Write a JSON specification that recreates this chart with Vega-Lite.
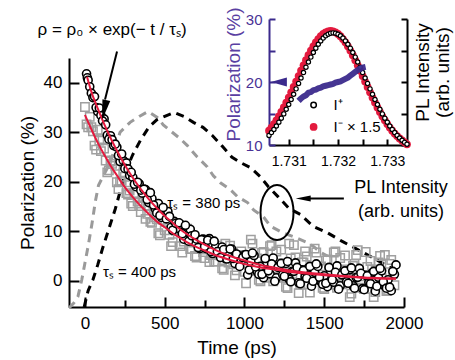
{
  "$schema": "https://vega.github.io/schema/vega-lite/v6.json",
  "width": 335,
  "height": 249,
  "autosize": "none",
  "padding": {"left": 69, "top": 58, "right": 51, "bottom": 53},
  "background": "white",
  "config": {
    "view": {"stroke": null},
    "font": "Liberation Sans",
    "axis": {"grid": false, "labelColor": "black", "titleColor": "black", "domainColor": "black", "tickColor": "black", "titleFontWeight": "normal", "labelFlush": false, "labelOverlap": false}
  },
  "datasets": {
    "circ": [
      {"t":10,"v":41.8},{"t":15,"v":41.0},{"t":20,"v":40.5},{"t":30,"v":39.2},{"t":40,"v":37.9},{"t":50,"v":37.0},{"t":60,"v":37.2},{"t":80,"v":34.2},{"t":100,"v":33.4},{"t":120,"v":32.7},{"t":140,"v":29.4},{"t":160,"v":29.3},{"t":180,"v":27.3},{"t":200,"v":27.0},{"t":220,"v":24.1},{"t":240,"v":24.3},{"t":260,"v":23.8},{"t":280,"v":21.3},{"t":300,"v":20.9},{"t":320,"v":19.0},{"t":340,"v":19.6},{"t":360,"v":17.7},{"t":380,"v":18.4},{"t":400,"v":15.8},
      {"t":420,"v":16.6},{"t":440,"v":14.6},{"t":460,"v":15.6},{"t":480,"v":12.8},{"t":500,"v":13.4},{"t":520,"v":14.0},{"t":540,"v":10.8},{"t":560,"v":12.0},{"t":580,"v":10.6},{"t":600,"v":11.4},{"t":620,"v":8.4},{"t":640,"v":9.9},{"t":660,"v":10.4},{"t":680,"v":7.9},{"t":700,"v":8.4},{"t":720,"v":6.5},{"t":740,"v":8.4},{"t":760,"v":6.5},{"t":780,"v":8.5},{"t":800,"v":5.5},{"t":820,"v":7.0},{"t":840,"v":5.5},{"t":860,"v":6.8},{"t":880,"v":4.5},{"t":900,"v":5.4},{"t":920,"v":6.4},{"t":940,"v":3.5},{"t":960,"v":5.1},{"t":980,"v":4.0},{"t":1000,"v":5.2},
      {"t":1020,"v":1.2},{"t":1040,"v":3.9},{"t":1060,"v":5.1},{"t":1080,"v":1.8},{"t":1100,"v":2.9},{"t":1120,"v":0.6},{"t":1140,"v":3.8},{"t":1160,"v":1.4},{"t":1180,"v":4.6},{"t":1200,"v":0.6},{"t":1220,"v":3.1},{"t":1240,"v":1.2},{"t":1260,"v":3.5},{"t":1280,"v":0.3},{"t":1300,"v":1.9},{"t":1320,"v":3.6},{"t":1340,"v":-0.4},{"t":1360,"v":2.2},{"t":1380,"v":0.8},{"t":1400,"v":2.6},{"t":1420,"v":-1.1},{"t":1440,"v":1.7},{"t":1460,"v":2.9},{"t":1480,"v":-0.2},{"t":1500,"v":1.0},{"t":1520,"v":-1.2},{"t":1540,"v":2.0},{"t":1560,"v":-0.3},{"t":1580,"v":3.0},{"t":1600,"v":-1.0},{"t":1620,"v":1.6},{"t":1640,"v":-0.2},{"t":1660,"v":2.2},{"t":1680,"v":-1.0},{"t":1700,"v":0.7},{"t":1720,"v":2.5},{"t":1740,"v":-1.6},{"t":1760,"v":1.1},{"t":1780,"v":-0.3},{"t":1800,"v":1.6},{"t":1820,"v":-2.1},{"t":1840,"v":0.7},{"t":1860,"v":2.0},{"t":1880,"v":-1.1},{"t":1900,"v":0.2},{"t":1920,"v":-2.0},{"t":1940,"v":1.3},{"t":1950,"v":3.2},
      {"t":70,"v":35.0},{"t":90,"v":34.9},{"t":110,"v":32.3},{"t":130,"v":31.5},{"t":150,"v":28.6},{"t":170,"v":28.5},{"t":190,"v":27.6},{"t":210,"v":25.3},{"t":230,"v":25.6},{"t":250,"v":22.7},{"t":270,"v":22.6},{"t":290,"v":21.9},{"t":310,"v":19.5},{"t":330,"v":19.9},{"t":350,"v":18.3},{"t":370,"v":18.5},{"t":390,"v":16.4},
      {"t":410,"v":17.8},{"t":430,"v":15.3},{"t":450,"v":13.7},{"t":470,"v":13.2},{"t":490,"v":14.8},{"t":510,"v":12.5},{"t":530,"v":13.0},{"t":550,"v":10.2},{"t":570,"v":11.6},{"t":590,"v":11.7},{"t":610,"v":9.5},{"t":630,"v":11.2},{"t":650,"v":8.0},{"t":670,"v":9.1},{"t":690,"v":9.3},{"t":710,"v":6.7},{"t":730,"v":8.3},{"t":750,"v":6.9},{"t":770,"v":8.2},{"t":790,"v":5.9},{"t":810,"v":8.0},{"t":830,"v":5.9},{"t":850,"v":4.7},{"t":870,"v":6.3},{"t":890,"v":4.4},{"t":910,"v":6.4},{"t":930,"v":4.5},{"t":950,"v":5.4},{"t":970,"v":2.9},{"t":990,"v":4.7},
      {"t":1010,"v":5.3},{"t":1030,"v":2.2},{"t":1050,"v":5.6},{"t":1070,"v":2.8},{"t":1090,"v":1.3},{"t":1110,"v":1.3},{"t":1130,"v":4.5},{"t":1150,"v":2.0},{"t":1170,"v":3.4},{"t":1190,"v":-0.1},{"t":1210,"v":2.7},{"t":1230,"v":3.5},{"t":1250,"v":0.9},{"t":1270,"v":3.9},{"t":1290,"v":-0.2},{"t":1310,"v":1.9},{"t":1330,"v":2.7},{"t":1350,"v":-0.6},{"t":1370,"v":2.1},{"t":1390,"v":0.5},{"t":1410,"v":2.9},{"t":1430,"v":-0.1},{"t":1450,"v":3.4},{"t":1470,"v":0.7},{"t":1490,"v":-0.7},{"t":1510,"v":-0.5},{"t":1530,"v":2.7},{"t":1550,"v":0.2},{"t":1570,"v":1.7},{"t":1590,"v":-1.7},{"t":1610,"v":1.2},{"t":1630,"v":2.0},{"t":1650,"v":-0.5},{"t":1670,"v":2.6},{"t":1690,"v":-1.5},{"t":1710,"v":0.7},{"t":1730,"v":1.5},{"t":1750,"v":-1.8},{"t":1770,"v":1.0},{"t":1790,"v":-0.6},{"t":1810,"v":1.9},{"t":1830,"v":-1.1},{"t":1850,"v":2.5},{"t":1870,"v":-0.2},{"t":1890,"v":-1.5},{"t":1910,"v":-1.3},{"t":1930,"v":1.9}
    ],
    "sq": [
      {"t":0,"v":35.1},{"t":20,"v":31.0},{"t":40,"v":31.0},{"t":60,"v":27.3},{"t":80,"v":30.5},{"t":100,"v":26.2},{"t":120,"v":26.7},{"t":140,"v":21.9},{"t":160,"v":24.1},{"t":180,"v":24.3},{"t":200,"v":19.9},{"t":220,"v":20.0},{"t":240,"v":21.7},{"t":260,"v":17.7},{"t":280,"v":18.2},{"t":300,"v":15.1},{"t":320,"v":17.5},{"t":340,"v":15.1},{"t":360,"v":16.9},{"t":380,"v":12.5},{"t":400,"v":15.1},
      {"t":420,"v":11.7},{"t":440,"v":12.8},{"t":460,"v":9.6},{"t":480,"v":14.3},{"t":500,"v":10.2},{"t":520,"v":11.7},{"t":540,"v":7.0},{"t":560,"v":10.3},{"t":580,"v":11.2},{"t":600,"v":7.0},{"t":620,"v":7.9},{"t":640,"v":10.5},{"t":660,"v":6.4},{"t":680,"v":7.7},{"t":700,"v":4.7},{"t":720,"v":8.0},{"t":740,"v":5.8},{"t":760,"v":8.3},{"t":780,"v":3.8},{"t":800,"v":7.2},{"t":820,"v":3.9},{"t":840,"v":5.4},{"t":860,"v":2.5},{"t":880,"v":7.5},{"t":900,"v":3.7},{"t":920,"v":5.0},{"t":940,"v":1.1},{"t":960,"v":4.7},{"t":980,"v":5.9},{"t":1000,"v":1.8},
      {"t":1020,"v":3.5},{"t":1040,"v":8.3},{"t":1060,"v":2.0},{"t":1080,"v":4.5},{"t":1100,"v":-0.1},{"t":1120,"v":5.8},{"t":1140,"v":2.4},{"t":1160,"v":7.0},{"t":1180,"v":-0.1},{"t":1200,"v":5.9},{"t":1220,"v":0.8},{"t":1240,"v":3.5},{"t":1260,"v":-1.2},{"t":1280,"v":7.5},{"t":1300,"v":1.4},{"t":1320,"v":4.7},{"t":1340,"v":-2.5},{"t":1360,"v":3.7},{"t":1380,"v":5.9},{"t":1400,"v":-0.7},{"t":1420,"v":1.5},{"t":1440,"v":6.5},{"t":1460,"v":0.2},{"t":1480,"v":2.9},{"t":1500,"v":-1.7},{"t":1520,"v":4.3},{"t":1540,"v":1.0},{"t":1560,"v":5.7},{"t":1580,"v":-1.4},{"t":1600,"v":4.6},{"t":1620,"v":-0.5},{"t":1640,"v":2.3},{"t":1660,"v":-3.3},{"t":1680,"v":3.0},{"t":1700,"v":5.2},{"t":1720,"v":-1.4},{"t":1740,"v":0.9},{"t":1760,"v":5.8},{"t":1780,"v":-0.5},{"t":1800,"v":2.3},{"t":1820,"v":-2.3},{"t":1840,"v":3.7},{"t":1860,"v":0.5},{"t":1880,"v":5.2},{"t":1900,"v":-1.9},{"t":1920,"v":4.2},{"t":1940,"v":-0.9},
      {"t":10,"v":31.6},{"t":30,"v":33.1},{"t":50,"v":30.2},{"t":70,"v":26.5},{"t":90,"v":28.3},{"t":110,"v":28.6},{"t":130,"v":24.3},{"t":150,"v":22.3},{"t":170,"v":23.6},{"t":190,"v":23.2},{"t":210,"v":18.5},{"t":230,"v":20.2},{"t":250,"v":21.0},{"t":270,"v":17.4},{"t":290,"v":15.6},{"t":310,"v":17.7},{"t":330,"v":16.0},{"t":350,"v":13.9},{"t":370,"v":16.7},{"t":390,"v":13.5},
      {"t":410,"v":11.9},{"t":430,"v":14.7},{"t":450,"v":12.4},{"t":470,"v":9.2},{"t":490,"v":12.3},{"t":510,"v":13.4},{"t":530,"v":9.3},{"t":550,"v":7.8},{"t":570,"v":10.1},{"t":590,"v":10.4},{"t":610,"v":5.7},{"t":630,"v":8.5},{"t":650,"v":9.9},{"t":670,"v":6.4},{"t":690,"v":5.0},{"t":710,"v":8.0},{"t":730,"v":6.5},{"t":750,"v":4.6},{"t":770,"v":8.3},{"t":790,"v":5.2},{"t":810,"v":3.9},{"t":830,"v":7.1},{"t":850,"v":5.1},{"t":870,"v":2.2},{"t":890,"v":5.6},{"t":910,"v":7.1},{"t":930,"v":3.3},{"t":950,"v":2.1},{"t":970,"v":4.6},{"t":990,"v":5.2},
      {"t":1010,"v":-0.5},{"t":1030,"v":4.7},{"t":1050,"v":7.5},{"t":1070,"v":2.1},{"t":1090,"v":0.2},{"t":1110,"v":5.6},{"t":1130,"v":3.5},{"t":1150,"v":0.6},{"t":1170,"v":7.2},{"t":1190,"v":2.4},{"t":1210,"v":0.6},{"t":1230,"v":6.3},{"t":1250,"v":3.2},{"t":1270,"v":-1.5},{"t":1290,"v":4.5},{"t":1310,"v":7.2},{"t":1330,"v":1.1},{"t":1350,"v":-0.8},{"t":1370,"v":3.7},{"t":1390,"v":4.9},{"t":1410,"v":-2.4},{"t":1430,"v":2.8},{"t":1450,"v":5.7},{"t":1470,"v":0.4},{"t":1490,"v":-1.4},{"t":1510,"v":4.1},{"t":1530,"v":2.0},{"t":1550,"v":-0.8},{"t":1570,"v":5.9},{"t":1590,"v":1.1},{"t":1610,"v":-0.7},{"t":1630,"v":5.1},{"t":1650,"v":2.0},{"t":1670,"v":-2.6},{"t":1690,"v":3.4},{"t":1710,"v":6.2},{"t":1730,"v":0.1},{"t":1750,"v":-1.7},{"t":1770,"v":2.8},{"t":1790,"v":4.0},{"t":1810,"v":-3.3},{"t":1830,"v":2.0},{"t":1850,"v":5.0},{"t":1870,"v":-0.3},{"t":1890,"v":-2.1},{"t":1910,"v":3.4},{"t":1930,"v":1.4}
    ],
    "fit1": [
      {"t":13,"v":41.2},{"t":40,"v":38.2},{"t":80,"v":34.8},{"t":120,"v":31.7},{"t":160,"v":28.9},{"t":200,"v":26.3},{"t":250,"v":23.4},{"t":300,"v":20.8},{"t":350,"v":18.5},{"t":400,"v":16.5},{"t":450,"v":14.7},{"t":500,"v":13.1},{"t":550,"v":11.7},{"t":600,"v":10.3},{"t":650,"v":9.2},{"t":700,"v":8.2},{"t":750,"v":7.3},{"t":800,"v":6.5},{"t":900,"v":5.1},{"t":1000,"v":4.1},{"t":1100,"v":3.2},{"t":1200,"v":2.6},{"t":1300,"v":2.0},{"t":1400,"v":1.6},{"t":1500,"v":1.3},{"t":1600,"v":1.0},{"t":1700,"v":0.8},{"t":1800,"v":0.6},{"t":1950,"v":0.45}
    ],
    "fit2": [
      {"t":0,"v":33.5},{"t":40,"v":30.6},{"t":80,"v":27.9},{"t":120,"v":25.5},{"t":160,"v":23.3},{"t":200,"v":21.3},{"t":250,"v":18.9},{"t":300,"v":16.9},{"t":350,"v":15.1},{"t":400,"v":13.5},{"t":450,"v":12.0},{"t":500,"v":10.8},{"t":550,"v":9.6},{"t":600,"v":8.6},{"t":650,"v":7.6},{"t":700,"v":6.8},{"t":750,"v":6.1},{"t":800,"v":5.4},{"t":900,"v":4.3},{"t":1000,"v":3.4},{"t":1100,"v":2.7},{"t":1200,"v":2.2},{"t":1300,"v":1.7},{"t":1400,"v":1.4},{"t":1500,"v":1.1},{"t":1600,"v":0.9},{"t":1700,"v":0.7},{"t":1800,"v":0.5},{"t":1950,"v":0.4}
    ],
    "pl1": [
      {"t":-100,"v":-5.5},{"t":-70,"v":-4.5},{"t":-44,"v":-3.2},{"t":-20,"v":0.2},{"t":0,"v":3.6},{"t":20,"v":7.0},{"t":45,"v":11.7},{"t":65,"v":16.0},{"t":85,"v":19.3},{"t":120,"v":21.5},{"t":157,"v":23.8},{"t":190,"v":26.9},{"t":220,"v":30.0},{"t":283,"v":32.0},{"t":346,"v":33.3},{"t":396,"v":34.2},{"t":453,"v":33.0},{"t":491,"v":31.5},{"t":547,"v":30.0},{"t":597,"v":28.7},{"t":642,"v":27.3},{"t":704,"v":25.0},{"t":767,"v":23.0},{"t":805,"v":21.2},{"t":849,"v":19.8},{"t":912,"v":18.4},{"t":956,"v":17.0},{"t":1019,"v":15.8},{"t":1057,"v":14.3},{"t":1119,"v":12.9},{"t":1164,"v":11.0},{"t":1239,"v":9.7},{"t":1308,"v":8.9},{"t":1396,"v":7.7},{"t":1434,"v":6.9},{"t":1478,"v":5.7},{"t":1520,"v":5.0}
    ],
    "pl2": [
      {"t":-5,"v":-5.3},{"t":20,"v":-2.0},{"t":50,"v":0.2},{"t":80,"v":3.2},{"t":110,"v":6.5},{"t":150,"v":10.5},{"t":190,"v":14.5},{"t":220,"v":18.0},{"t":260,"v":22.5},{"t":300,"v":25.5},{"t":350,"v":28.5},{"t":400,"v":31.0},{"t":450,"v":32.5},{"t":500,"v":33.2},{"t":560,"v":34.0},{"t":620,"v":33.2},{"t":680,"v":32.0},{"t":740,"v":31.0},{"t":800,"v":29.3},{"t":860,"v":27.2},{"t":920,"v":25.0},{"t":980,"v":23.8},{"t":1040,"v":22.8},{"t":1100,"v":21.0},{"t":1150,"v":19.0},{"t":1210,"v":17.0},{"t":1280,"v":14.6},{"t":1350,"v":13.4},{"t":1430,"v":11.0},{"t":1520,"v":9.7},{"t":1610,"v":8.0},{"t":1710,"v":6.3},{"t":1830,"v":4.2},{"t":1940,"v":2.2}
    ],
    "spec": [
      {"e":1.7306,"ip":11.52,"im":12.27},{"e":1.73065,"ip":11.97,"im":12.77},{"e":1.7307,"ip":12.47,"im":13.32},{"e":1.73075,"ip":13.02,"im":13.92},{"e":1.7308,"ip":13.62,"im":14.56},{"e":1.73085,"ip":14.26,"im":15.24},{"e":1.7309,"ip":14.94,"im":15.97},{"e":1.73095,"ip":15.67,"im":16.73},{"e":1.731,"ip":16.43,"im":17.53},{"e":1.73105,"ip":17.23,"im":18.36},{"e":1.7311,"ip":18.06,"im":19.21},{"e":1.73115,"ip":18.91,"im":20.07},{"e":1.7312,"ip":19.77,"im":20.94},{"e":1.73125,"ip":20.64,"im":21.8},{"e":1.7313,"ip":21.5,"im":22.65},{"e":1.73135,"ip":22.35,"im":23.47},{"e":1.7314,"ip":23.17,"im":24.25},{"e":1.73145,"ip":23.95,"im":24.99},{"e":1.7315,"ip":24.69,"im":25.67},{"e":1.73155,"ip":25.37,"im":26.29},{"e":1.7316,"ip":25.99,"im":26.82},{"e":1.73165,"ip":26.52,"im":27.27},{"e":1.7317,"ip":26.97,"im":27.63},{"e":1.73175,"ip":27.33,"im":27.89},{"e":1.7318,"ip":27.59,"im":28.05},{"e":1.73185,"ip":27.75,"im":28.1},{"e":1.7319,"ip":27.8,"im":28.05},{"e":1.73195,"ip":27.75,"im":27.89},{"e":1.732,"ip":27.59,"im":27.63},{"e":1.73205,"ip":27.33,"im":27.27},{"e":1.7321,"ip":26.97,"im":26.82},{"e":1.73215,"ip":26.52,"im":26.29},{"e":1.7322,"ip":25.99,"im":25.67},{"e":1.73225,"ip":25.37,"im":24.99},{"e":1.7323,"ip":24.69,"im":24.25},{"e":1.73235,"ip":23.95,"im":23.47},{"e":1.7324,"ip":23.17,"im":22.65},{"e":1.73245,"ip":22.35,"im":21.8},{"e":1.7325,"ip":21.5,"im":20.94},{"e":1.73255,"ip":20.64,"im":20.07},{"e":1.7326,"ip":19.77,"im":19.21},{"e":1.73265,"ip":18.91,"im":18.36},{"e":1.7327,"ip":18.06,"im":17.53},{"e":1.73275,"ip":17.23,"im":16.73},{"e":1.7328,"ip":16.43,"im":15.97},{"e":1.73285,"ip":15.67,"im":15.24},{"e":1.7329,"ip":14.94,"im":14.56},{"e":1.73295,"ip":14.26,"im":13.92},{"e":1.733,"ip":13.62,"im":13.32},{"e":1.73305,"ip":13.02,"im":12.77},{"e":1.7331,"ip":12.47,"im":12.27},{"e":1.73315,"ip":11.97,"im":11.82},{"e":1.7332,"ip":11.52,"im":11.41},{"e":1.73325,"ip":11.11,"im":11.05},{"e":1.7333,"ip":10.75,"im":10.72},{"e":1.73335,"ip":10.42,"im":10.43},{"e":1.7334,"ip":10.13,"im":10.1}
    ],
    "pol": [
      {"e":1.7312,"p":17.0},{"e":1.73125,"p":17.4},{"e":1.7313,"p":17.7},{"e":1.73135,"p":17.9},{"e":1.7314,"p":18.3},{"e":1.73145,"p":18.4},{"e":1.7315,"p":18.7},{"e":1.73155,"p":18.8},{"e":1.7316,"p":19.0},{"e":1.73165,"p":19.1},{"e":1.7317,"p":19.3},{"e":1.73175,"p":19.4},{"e":1.7318,"p":19.5},{"e":1.73185,"p":19.6},{"e":1.7319,"p":19.7},{"e":1.73195,"p":19.9},{"e":1.732,"p":20.0},{"e":1.73205,"p":20.1},{"e":1.7321,"p":20.3},{"e":1.73215,"p":20.5},{"e":1.7322,"p":20.7},{"e":1.73225,"p":21.0},{"e":1.7323,"p":21.3},{"e":1.73235,"p":21.6},{"e":1.7324,"p":21.9},{"e":1.73245,"p":22.1},{"e":1.7325,"p":22.3},{"e":1.73256,"p":22.4}
    ]
  },
  "layer": [
    {
      "layer": [
        {
          "data": {"name": "pl1"},
          "mark": {"type": "line", "color": "#9a9a9a", "strokeWidth": 3, "strokeDash": [8, 6]},
          "encoding": {
            "x": {"field": "t", "type": "quantitative", "scale": {"domain": [-100, 2000], "nice": false, "zero": false},
              "axis": {"title": "Time (ps)", "orient": "bottom", "format": "d", "values": [0,250,500,750,1000,1250,1500,1750,2000], "labelExpr": "datum.value % 500 === 0 ? datum.label : ''", "tickSize": {"condition": {"test": "datum.value % 500 === 0", "value": -10}, "value": -7}, "tickWidth": 2, "domainWidth": 2, "labelFontSize": 17, "labelPadding": 18, "titleFontSize": 19, "titlePadding": 4}},
            "y": {"field": "v", "type": "quantitative", "scale": {"domain": [-5.3, 45], "nice": false, "zero": false},
              "axis": {"title": "Polarization (%)", "orient": "left", "values": [0,5,10,15,20,25,30,35,40,45], "labelExpr": "datum.value % 10 === 0 ? datum.label : ''", "tickSize": {"condition": {"test": "datum.value % 10 === 0", "value": -10}, "value": -7}, "tickWidth": 2, "domainWidth": 2, "labelFontSize": 17, "labelPadding": 17, "titleFontSize": 19, "titlePadding": 6}}
          }
        },
        {
          "data": {"name": "pl2"},
          "mark": {"type": "line", "color": "black", "strokeWidth": 3, "strokeDash": [8, 6]},
          "encoding": {"x": {"field": "t", "type": "quantitative"}, "y": {"field": "v", "type": "quantitative"}}
        },
        {
          "data": {"name": "sq"},
          "mark": {"type": "point", "shape": "square", "size": 70, "filled": false, "stroke": "#a0a0a0", "strokeWidth": 1.5, "opacity": 1},
          "encoding": {"x": {"field": "t", "type": "quantitative"}, "y": {"field": "v", "type": "quantitative"}}
        },
        {
          "data": {"name": "circ"},
          "mark": {"type": "point", "shape": "circle", "size": 65, "filled": true, "fill": "white", "stroke": "black", "strokeWidth": 1.6, "opacity": 1},
          "encoding": {"x": {"field": "t", "type": "quantitative"}, "y": {"field": "v", "type": "quantitative"}}
        },
        {
          "data": {"name": "fit2"},
          "mark": {"type": "line", "color": "#e31a3e", "strokeWidth": 2, "interpolate": "monotone"},
          "encoding": {"x": {"field": "t", "type": "quantitative"}, "y": {"field": "v", "type": "quantitative"}}
        },
        {
          "data": {"name": "fit1"},
          "mark": {"type": "line", "color": "#e31a3e", "strokeWidth": 2, "interpolate": "monotone"},
          "encoding": {"x": {"field": "t", "type": "quantitative"}, "y": {"field": "v", "type": "quantitative"}}
        },
        {
          "mark": {"type": "rule", "color": "black", "strokeWidth": 2},
          "encoding": {"x": {"datum": -100}, "x2": {"datum": 2000}, "y": {"datum": 0}}
        },
        {
          "data": {"values": [{"t": 201, "v": 46.3, "t2": 126, "v2": 36.6}]},
          "mark": {"type": "rule", "color": "black", "strokeWidth": 2},
          "encoding": {"x": {"field": "t", "type": "quantitative"}, "y": {"field": "v", "type": "quantitative"}, "x2": {"field": "t2"}, "y2": {"field": "v2"}}
        },
        {
          "data": {"values": [{"t": 121, "v": 34.5}]},
          "mark": {"type": "point", "shape": "M0,1 L-0.4,-1 L0.4,-1 Z", "size": 400, "filled": true, "color": "black", "opacity": 1, "angle": 12},
          "encoding": {"x": {"field": "t", "type": "quantitative"}, "y": {"field": "v", "type": "quantitative"}}
        },
        {
          "data": {"values": [{"t": 1204, "v": 13.8}]},
          "mark": {"type": "point", "shape": "M-0.6,0 C-0.6,-0.5523 -0.3314,-1 0,-1 C0.3314,-1 0.6,-0.5523 0.6,0 C0.6,0.5523 0.3314,1 0,1 C-0.3314,1 -0.6,0.5523 -0.6,0 Z", "size": 3025, "filled": false, "stroke": "black", "strokeWidth": 2, "opacity": 1},
          "encoding": {"x": {"field": "t", "type": "quantitative"}, "y": {"field": "v", "type": "quantitative"}}
        },
        {
          "data": {"values": [{"t": 1368, "v": 16.6, "t2": 1623}]},
          "mark": {"type": "rule", "color": "black", "strokeWidth": 2},
          "encoding": {"x": {"field": "t", "type": "quantitative"}, "y": {"field": "v", "type": "quantitative"}, "x2": {"field": "t2"}}
        },
        {
          "data": {"values": [{"t": 1368, "v": 16.6}]},
          "mark": {"type": "point", "shape": "M-1,0 L1,-0.4 L1,0.4 Z", "size": 225, "filled": true, "color": "black", "opacity": 1},
          "encoding": {"x": {"field": "t", "type": "quantitative"}, "y": {"field": "v", "type": "quantitative"}}
        },
        {
          "data": {"values": [{"t": 170, "v": 50.7, "label": "ρ = ρ₀ × exp(− t / τₛ)"}]},
          "mark": {"type": "text", "fontSize": 17, "align": "center", "baseline": "middle", "color": "black"},
          "encoding": {"x": {"field": "t", "type": "quantitative"}, "y": {"field": "v", "type": "quantitative"}, "text": {"field": "label"}}
        },
        {
          "data": {"values": [{"t": 516, "v": 15.8, "label": "τₛ = 380 ps"}, {"t": 113, "v": 1.8, "label": "τₛ = 400 ps"}]},
          "mark": {"type": "text", "fontSize": 15, "align": "left", "baseline": "middle", "color": "black"},
          "encoding": {"x": {"field": "t", "type": "quantitative"}, "y": {"field": "v", "type": "quantitative"}, "text": {"field": "label"}}
        },
        {
          "data": {"values": [{"t": 1981, "v": 18.8, "label": "PL Intensity"}, {"t": 1981, "v": 13.9, "label": "(arb. units)"}]},
          "mark": {"type": "text", "fontSize": 18, "align": "center", "baseline": "middle", "color": "black"},
          "encoding": {"x": {"field": "t", "type": "quantitative"}, "y": {"field": "v", "type": "quantitative"}, "text": {"field": "label"}}
        }
      ]
    },
    {
      "layer": [
        {
          "layer": [
            {
              "data": {"name": "spec"},
              "mark": {"type": "point", "shape": "circle", "size": 60, "filled": true, "color": "#e31a3e", "opacity": 1},
              "encoding": {
                "x": {"field": "e", "type": "quantitative", "scale": {"domain": [1.7306, 1.7334], "range": [200, 338], "nice": false, "zero": false},
                  "axis": {"title": null, "orient": "bottom", "offset": -162, "values": [1.731, 1.7315, 1.732, 1.7325, 1.733], "labelExpr": "abs(datum.value*1000 - round(datum.value*1000)) < 0.01 ? format(datum.value, '.3f') : ''", "tickSize": -6, "tickWidth": 2, "domainWidth": 2, "labelFontSize": 14, "labelPadding": 15}},
                "y": {"field": "im", "type": "quantitative", "scale": {"domain": [10, 30], "range": [87, -39], "nice": false, "zero": false},
                  "axis": {"title": ["PL Intensity", "(arb. units)"], "orient": "right", "offset": 3, "values": [10, 15, 20, 25, 30], "labels": false, "tickSize": -6, "tickWidth": 2, "domainWidth": 2, "titleFontSize": 19, "titleAngle": 270, "titleX": 6, "titleY": 14, "titleAlign": "center", "titleBaseline": "top", "titleLineHeight": 20}}
              }
            },
            {
              "data": {"name": "spec"},
              "mark": {"type": "point", "shape": "circle", "size": 18, "filled": true, "fill": "white", "stroke": "black", "strokeWidth": 1.2, "opacity": 1},
              "encoding": {"x": {"field": "e", "type": "quantitative"}, "y": {"field": "ip", "type": "quantitative"}}
            },
            {
              "mark": {"type": "rule", "color": "black", "strokeWidth": 2},
              "encoding": {"x": {"datum": 1.7306}, "x2": {"datum": 1.7334}, "y": {"datum": 30}}
            },
            {
              "data": {"values": [{"e": 1.731505, "ip": 16.35}]},
              "mark": {"type": "point", "shape": "circle", "size": 30, "filled": false, "stroke": "black", "strokeWidth": 1.5, "opacity": 1},
              "encoding": {"x": {"field": "e", "type": "quantitative"}, "y": {"field": "ip", "type": "quantitative"}}
            },
            {
              "data": {"values": [{"e": 1.731505, "ip": 12.86}]},
              "mark": {"type": "point", "shape": "circle", "size": 60, "filled": true, "color": "#e31a3e", "opacity": 1},
              "encoding": {"x": {"field": "e", "type": "quantitative"}, "y": {"field": "ip", "type": "quantitative"}}
            },
            {
              "data": {"values": [{"e": 1.73191, "ip": 16.35, "label": "I⁺"}, {"e": 1.73191, "ip": 12.86, "label": "I⁻ × 1.5"}]},
              "mark": {"type": "text", "fontSize": 15, "align": "left", "baseline": "middle", "color": "black"},
              "encoding": {"x": {"field": "e", "type": "quantitative"}, "y": {"field": "ip", "type": "quantitative"}, "text": {"field": "label"}}
            }
          ]
        },
        {
          "layer": [
            {
              "data": {"name": "pol"},
              "mark": {"type": "line", "color": "#3b2a8c", "strokeWidth": 6, "opacity": 0.95},
              "encoding": {
                "x": {"field": "e", "type": "quantitative"},
                "y": {"field": "p", "type": "quantitative", "scale": {"domain": [10, 30], "range": [87, -39], "nice": false, "zero": false},
                  "axis": {"title": "Polarization (%)", "orient": "left", "offset": -200, "values": [10, 15, 20, 25, 30], "labelExpr": "datum.value % 10 === 0 ? datum.label : ''", "tickSize": -6, "tickWidth": 2, "domainWidth": 2, "domainColor": "#3b2a8c", "tickColor": "#3b2a8c", "labelColor": "#4a3296", "titleColor": "#5a3fa2", "labelFontSize": 15, "labelPadding": 13, "titleFontSize": 19, "titlePadding": 2, "titleY": 16}}
              }
            },
            {
              "mark": {"type": "rule", "color": "#3b2a8c", "strokeWidth": 2},
              "encoding": {"x": {"datum": 1.7306}, "x2": {"datum": 1.73205}, "y": {"datum": 20}}
            },
            {
              "data": {"values": [{"e": 1.7308, "p": 20}]},
              "mark": {"type": "point", "shape": "M-1,0 L1,-0.55 L1,0.55 Z", "size": 256, "filled": true, "color": "#3b2a8c", "opacity": 1},
              "encoding": {"x": {"field": "e", "type": "quantitative"}, "y": {"field": "p", "type": "quantitative"}}
            }
          ]
        }
      ],
      "resolve": {"scale": {"y": "independent"}}
    }
  ],
  "resolve": {"scale": {"x": "independent", "y": "independent"}}
}
